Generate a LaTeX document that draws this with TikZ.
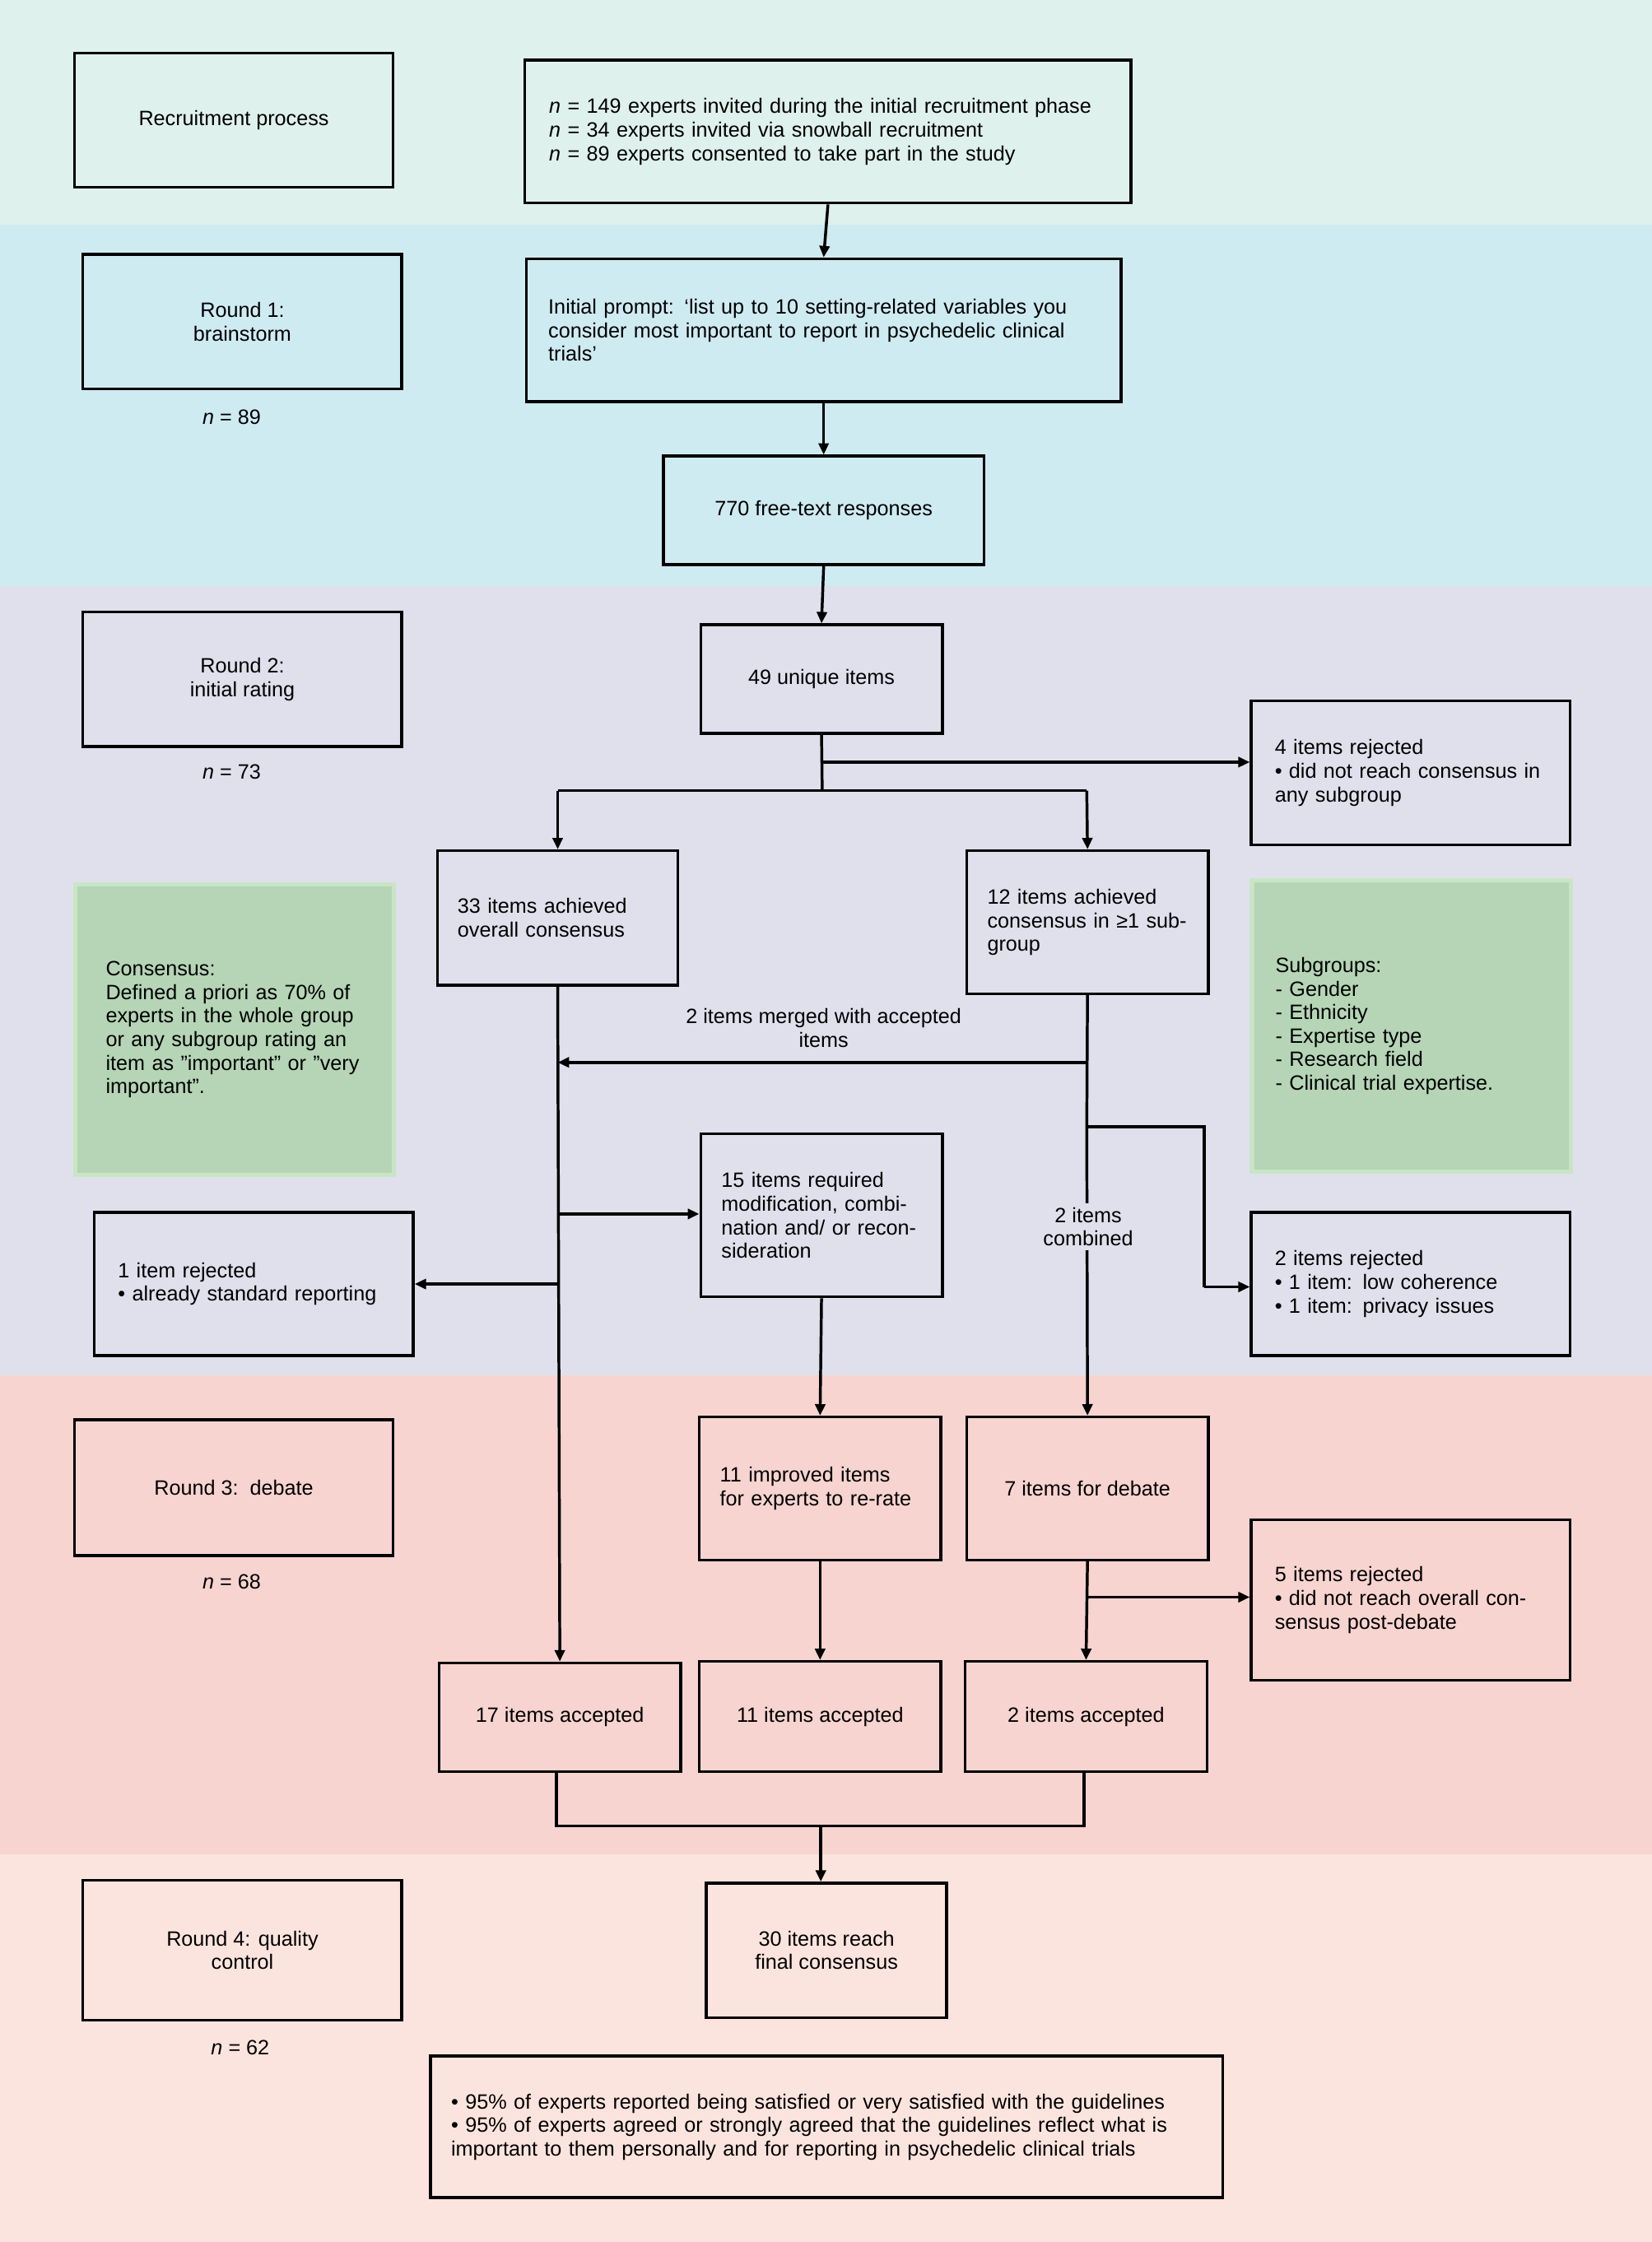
\documentclass[tikz,border=0pt]{standalone}
\usepackage{fontspec}
\setmainfont{Liberation Sans}
\usetikzlibrary{arrows.meta}
\definecolor{bA}{HTML}{DFF1EC}
\definecolor{bB}{HTML}{CFEBF2}
\definecolor{bC}{HTML}{DFE0EC}
\definecolor{bD}{HTML}{F7D4D0}
\definecolor{bE}{HTML}{FCE4DE}
\definecolor{gf}{HTML}{B5D5B6}
\definecolor{gd}{HTML}{C8E6C4}
\begin{document}
\begin{tikzpicture}[x=1pt,y=-1pt,
 every node/.style={font=\fontsize{14.5}{16.5}\selectfont},
 box/.style={draw=black,line width=2pt,anchor=north west,inner sep=0pt},
 gbox/.style={fill=gf,draw=gd,line width=3pt,anchor=north west,inner sep=0pt},
 ln/.style={line width=2pt},
 ar/.style={line width=2pt,-{Triangle[length=8pt,width=7pt]}}]
\useasboundingbox (0,0) rectangle (1155,1568);
\fill[bA] (0,0) rectangle (1155,157);
\fill[bB] (0,157) rectangle (1155,410);
\fill[bC] (0,410) rectangle (1155,962);
\fill[bD] (0,962) rectangle (1155,1297);
\fill[bE] (0,1297) rectangle (1155,1568);
% boxes
\node[box,minimum width=223pt,minimum height=94pt] (rec) at (51,36) {Recruitment process};
\node[box,minimum width=424pt,minimum height=100pt,text width=390pt,align=left] (inv) at (366,41) {\textit{n} = 149 experts invited during the initial recruitment phase\\ \textit{n} = 34 experts invited via snowball recruitment\\ \textit{n} = 89 experts consented to take part in the study};
\node[box,minimum width=223pt,minimum height=94pt,align=center] (r1) at (57,177) {Round 1:\\ brainstorm};
\node at (162,292) {\textit{n} = 89};
\node[box,minimum width=416pt,minimum height=100pt,text width=385pt,align=left] (pr) at (367,180) {Initial prompt: ‘list up to 10 setting-related variables you consider most important to report in psychedelic clinical trials’};
\node[box,minimum width=224pt,minimum height=76pt] (fr) at (463,318) {770 free-text responses};
\node[box,minimum width=223pt,minimum height=94pt,align=center] (r2) at (57,427) {Round 2:\\ initial rating};
\node at (162,540) {\textit{n} = 73};
\node[box,minimum width=169pt,minimum height=76pt] (un) at (489,436) {49 unique items};
\node[box,minimum width=223pt,minimum height=101pt,text width=190pt,align=left] (rj4) at (874,489) {4 items rejected\\ \textbullet\ did not reach consensus in any subgroup};
\node[box,minimum width=168pt,minimum height=94pt,text width=140pt,align=left] (a33) at (305,594) {33 items achieved overall consensus\\[12pt]};
\node[box,minimum width=169pt,minimum height=100pt,text width=140pt,align=left] (a12) at (675,594) {12 items achieved consensus in ≥1 subgroup\\[6pt]};
\node[gbox,minimum width=223pt,minimum height=203pt,text width=180pt,align=left] (cons) at (51,617) {Consensus:\\ Defined a priori as 70\% of experts in the whole group or any subgroup rating an item as "important" or "very important".\\[30pt]};
\node[gbox,minimum width=223pt,minimum height=204pt,text width=190pt,align=left] (sub) at (874,614) {Subgroups:\\ - Gender\\ - Ethnicity\\ - Expertise type\\ - Research field\\ - Clinical trial expertise.};
\node[box,minimum width=223pt,minimum height=100pt,text width=190pt,align=left] (rj1) at (65,847) {1 item rejected\\ \textbullet\ already standard reporting};
\node[box,minimum width=169pt,minimum height=114pt,text width=140pt,align=left] (m15) at (489,792) {15 items required modification, combination and/ or reconsideration};
\node[box,minimum width=223pt,minimum height=100pt,text width=190pt,align=left] (rj2) at (874,847) {2 items rejected\\ \textbullet\ 1 item: low coherence\\ \textbullet\ 1 item: privacy issues};
\node[box,minimum width=223pt,minimum height=95pt] (r3) at (51,992) {Round 3:\ \ debate};
\node at (162,1106) {\textit{n} = 68};
\node[box,minimum width=169pt,minimum height=100pt,text width=140pt,align=left] (i11) at (488,990) {11 improved items for experts to re-rate};
\node[box,minimum width=169pt,minimum height=100pt] (d7) at (675,990) {7 items for debate};
\node[box,minimum width=223pt,minimum height=112pt,text width=190pt,align=left] (rj5) at (874,1062) {5 items rejected\\ \textbullet\ did not reach overall consensus post-debate\\[10pt]};
\node[box,minimum width=169pt,minimum height=76pt] (c17) at (306,1162) {17 items accepted};
\node[box,minimum width=169pt,minimum height=77pt] (c11) at (488,1161) {11 items accepted};
\node[box,minimum width=169pt,minimum height=77pt] (c2) at (674,1161) {2 items accepted};
\node[box,minimum width=223pt,minimum height=98pt,align=center] (r4) at (57,1314) {Round 4: quality\\ control};
\node at (168,1432) {\textit{n} = 62};
\node[box,minimum width=168pt,minimum height=94pt,align=center] (fin) at (493,1316) {30 items reach\\ final consensus};
\node[box,minimum width=554pt,minimum height=99pt,text width=525pt,align=left] (bul) at (300,1437) {\textbullet\ 95\% of experts reported being satisfied or very satisfied with the guidelines\\ \textbullet\ 95\% of experts agreed or strongly agreed that the guidelines reflect what is important to them personally and for reporting in psychedelic clinical trials};
% connectors
\draw[ar] (inv.south) -- (pr.north);
\draw[ar] (pr.south) -- (fr.north);
\draw[ar] (fr.south) -- (un.north);
\coordinate (s1) at (575,553);
\coordinate (s0) at (575,533);
\draw[ln] (un.south) -- (s1);
\draw[ar] (s0) -- (s0 -| rj4.west);
\draw[ln] (390,553) -- (760,553);
\draw[ar] (390,553) -- (a33.north);
\draw[ar] (760,553) -- (a12.north);
\draw[ar] (a33.south) -- (c17.north);
\coordinate (m1) at (760,743);
\coordinate (m2) at (760,788);
\coordinate (m3) at (842,788);
\coordinate (m4) at (842,900);
\draw[ln] (a12.south) -- (m2);
\draw[ar] (m1) -- (390,743);
\node[align=center] at (576,719) {2 items merged with accepted\\ items};
\draw[ln] (m2) -- (m3) -- (m4);
\draw[ar] (m4) -- (m4 -| rj2.west);
\draw[ar] (m2) -- (d7.north);
\node[fill=bC,align=center,inner sep=3pt] at (761,858) {2 items\\ combined};
\draw[ar] (390,849) -- (389,849 -| m15.west);
\draw[ar] (390,898) -- (390,898 -| rj1.east);
\draw[ar] (m15.south) -- (i11.north);
\draw[ar] (i11.south) -- (c11.north);
\draw[ar] (d7.south) -- (c2.north);
\draw[ar] (760,1117) -- (760,1117 -| rj5.west);
\coordinate (j1) at (389,1277);
\coordinate (j2) at (758,1277);
\draw[ln] (c17.south -| j1) -- (j1) -- (j2) -- (c2.south -| j2);
\draw[ar] (574,1277) -- (fin.north -| 574,0);
\end{tikzpicture}
\end{document}
